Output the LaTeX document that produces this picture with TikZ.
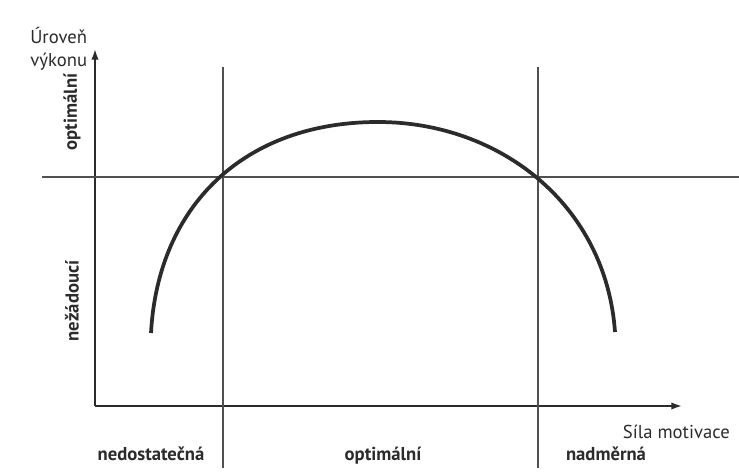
\documentclass[tikz,border=0pt]{standalone}
\usepackage{fontspec}
\setmainfont{PT Sans}
\definecolor{ink}{HTML}{2B2B2B}
\definecolor{rule}{HTML}{505050}
\usetikzlibrary{arrows.meta,positioning}
\tikzset{
  axis_line/.style={draw=ink,line width=1.3pt,-{Latex[length=8pt,width=5.5pt]}},
  zone_line/.style={draw=rule,line width=0.8pt},
  level_line/.style={draw=rule,line width=1.2pt},
  curve_line/.style={draw=ink,line width=2.8pt},
  zone_lbl/.style={font=\fontsize{14}{16}\selectfont\bfseries,text=ink,inner sep=0pt},
  axis_lbl/.style={font=\fontsize{14}{17}\selectfont,text=ink,inner sep=0pt,align=left},
}

\begin{document}
\begin{tikzpicture}[x=0.75pt,y=-0.75pt]
    \useasboundingbox (0,0) rectangle (739,473);

    % axes
    \coordinate (orig) at (95,406);
    \coordinate (ytop) at (95,49);
    \coordinate (xend) at (682,406);
    \draw[axis_line] (orig)--(ytop);
    \draw[axis_line] (orig)--(xend);

    % zone borders
    \coordinate (v1top) at (223,67);
    \coordinate (v1bot) at (223,468);
    \coordinate (v2top) at (538,67);
    \coordinate (v2bot) at (538,468);
    \coordinate (hl) at (42,177);
    \coordinate (hr) at (739,177);
    \draw[zone_line] (v1top)--(v1bot);
    \draw[zone_line] (v2top)--(v2bot);
    \draw[level_line] (hl)--(hr);

    % performance curve
    \coordinate (cstart) at (151,333);
    \coordinate (cpeak) at (378,122);
    \coordinate (cend) at (615,332);
    \draw[curve_line] (cstart) .. controls (158,205) and (245,122) .. (cpeak)
                               .. controls (500,122) and (606,205) .. (cend);

    % labels
    \node[axis_lbl,anchor=north west] (ylbl) at (30,27) {Úroveň\\výkonu};
    \node[axis_lbl,anchor=base east] (xlbl) at (730,439) {Síla motivace};
    \node[zone_lbl,rotate=90] (opt_v) at (72,112) {optimální};
    \node[zone_lbl,rotate=90] (bad_v) at (72,301) {nežádoucí};
    \node[zone_lbl,anchor=base] (low) at (151,461) {nedostatečná};
    \node[zone_lbl,anchor=base] (opt_h) at (383,461) {optimální};
    \node[zone_lbl,anchor=base] (high) at (606,461) {nadměrná};
  \end{tikzpicture}
\end{document}
